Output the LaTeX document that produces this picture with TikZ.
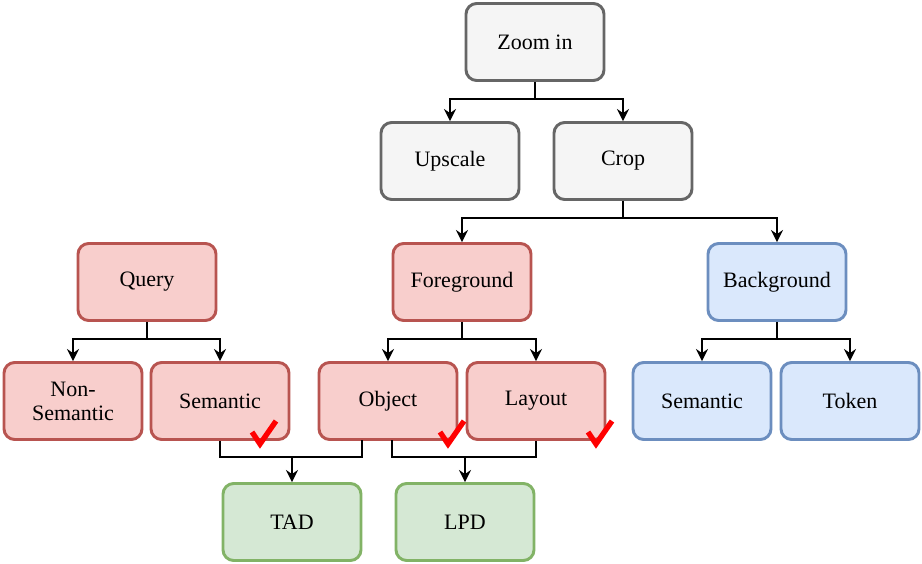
\documentclass[tikz,border=0pt]{standalone}
\usepackage{fontspec}
\setmainfont{Liberation Serif}
\usetikzlibrary{arrows.meta}
\begin{document}
\begin{tikzpicture}[x=0.75pt,y=-0.75pt,
  box/.style={draw,line width=2.2pt,rounded corners=8pt,minimum width=138*0.75pt,minimum height=77*0.75pt,align=center,font=\fontsize{16.5}{18}\selectfont,inner sep=0pt},
  gray/.style={box,fill=black!4,draw=black!60},
  red/.style={box,fill=red!20!pink!90!white,draw=red!40!brown,fill={rgb,255:red,248;green,206;blue,204},draw={rgb,255:red,184;green,84;blue,80}},
  blue/.style={box,fill={rgb,255:red,218;green,232;blue,252},draw={rgb,255:red,108;green,142;blue,191}},
  green/.style={box,fill={rgb,255:red,213;green,232;blue,212},draw={rgb,255:red,130;green,179;blue,102}},
  conn/.style={line width=2.2pt,-{Stealth[length=9pt,width=9pt,inset=3pt]}},
  ln/.style={line width=2.2pt},
  chk/.style={red!100,line width=4pt,line cap=butt}]
\useasboundingbox (0,0) rectangle (922,564);
\node[gray] (zoom) at (535,42) {Zoom in};
\node[gray] (ups) at (450,161) {Upscale};
\node[gray] (crop) at (623,161) {Crop};
\node[red] (query) at (147,282) {Query};
\node[red] (fg) at (462,282) {Foreground};
\node[blue] (bg) at (777,282) {Background};
\node[red] (ns) at (73,401) {Non-\\Semantic};
\node[red] (sem) at (220,401) {Semantic};
\node[red] (obj) at (388,401) {Object};
\node[red] (lay) at (536,401) {Layout};
\node[blue] (bsem) at (702,401) {Semantic};
\node[blue] (tok) at (850,401) {Token};
\node[green] (tad) at (292,522) {TAD};
\node[green] (lpd) at (465,522) {LPD};
\coordinate (j1) at (535,99);
\draw[ln] (zoom.south) -- (j1);
\draw[conn] (j1) -| (ups.north);
\draw[conn] (j1) -| (crop.north);
\coordinate (j2) at (623,218);
\draw[ln] (crop.south) -- (j2);
\draw[conn] (j2) -| (fg.north);
\draw[conn] (j2) -| (bg.north);
\coordinate (j3) at (147,339);
\draw[ln] (query.south) -- (j3);
\draw[conn] (j3) -| (ns.north);
\draw[conn] (j3) -| (sem.north);
\coordinate (j4) at (462,339);
\draw[ln] (fg.south) -- (j4);
\draw[conn] (j4) -| (obj.north);
\draw[conn] (j4) -| (lay.north);
\coordinate (j5) at (777,339);
\draw[ln] (bg.south) -- (j5);
\draw[conn] (j5) -| (bsem.north);
\draw[conn] (j5) -| (tok.north);
\draw[ln] (sem.south) |- (362,457) -- (362,440);
\draw[conn] (292,457) -- (tad.north);
\draw[ln] (392,440) |- (536,457) -- (lay.south);
\draw[conn] (465,457) -- (lpd.north);
\foreach \x in {252,440,588}{
  \draw[chk] (\x,432) -- (\x+8,444) -- (\x+24,421);
}
\end{tikzpicture}
\end{document}
